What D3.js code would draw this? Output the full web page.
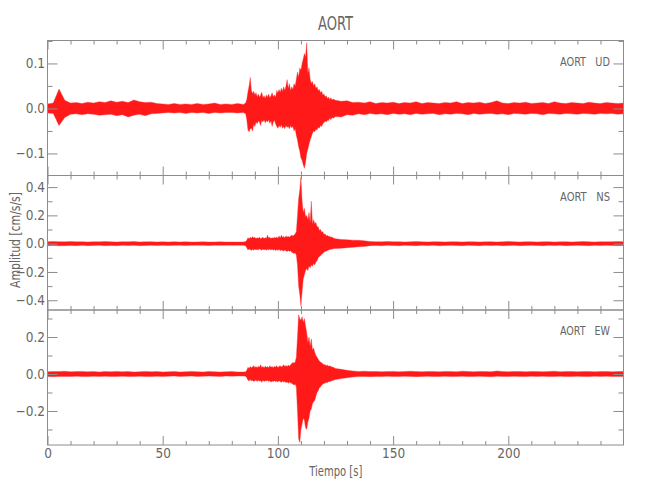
<!DOCTYPE html>
<html><head><meta charset="utf-8">
<script src="https://cdn.jsdelivr.net/npm/d3@7"></script>
<style>
body{margin:0;background:#fff}
svg text{font-family:"Liberation Sans Narrow","DejaVu Sans Condensed","Liberation Sans",Arial,sans-serif}
</style>
</head><body>
<svg id="chart" width="650" height="500"></svg>
<script>
// ---------------- data ----------------
const chartTitle = "AORT";
const stationName = "AORT";
const components = ["UD", "NS", "EW"];
const xLabel = "Tiempo [s]";
const yLabel = "Amplitud [cm/s/s]";
const xTickValues = [0, 50, 100, 150, 200];
const udTickValues = [-0.1, 0.0, 0.1];
const nsTickValues = [-0.4, -0.2, 0.0, 0.2, 0.4];
const ewTickValues = [-0.2, 0.0, 0.2];
const udRange = [-0.149, 0.151];
const nsRange = [-0.469, 0.482];
const ewRange = [-0.384, 0.346];

// sampling times (s) of the envelopes
const sampleTime = [
  0,2.5,5,7.5,10,12.5,15,17.5,20,22.5,25,27.5,30,32.5,35,37.5,40,42.5,45,47.5,
  50,52.5,55,57.5,60,62.5,65,67.5,70,72.5,75,77.5,80,82.5,85,
  86,86.5,87,87.5,88,88.5,89,89.5,90,90.5,91,91.5,92,92.5,93,93.5,94,94.5,95,95.5,
  96,96.5,97,97.5,98,98.5,99,99.5,100,100.5,101,101.5,102,102.5,103,103.5,104,104.5,105,105.5,
  106,106.5,107,107.5,108,108.5,109,109.5,110,110.5,111,111.5,112,112.5,113,113.5,114,114.5,115,115.5,
  116,116.5,117,117.5,118,118.5,119,119.5,120,120.5,121,121.5,122,122.5,123,123.5,124,
  125,127.5,130,132.5,135,137.5,140,142.5,145,147.5,150,152.5,155,157.5,160,162.5,165,167.5,170,172.5,
  175,177.5,180,182.5,185,187.5,190,192.5,195,197.5,200,202.5,205,207.5,210,212.5,215,217.5,220,222.5,
  225,227.5,230,232.5,235,237.5,240,242.5,245,247.5,250];

// UD (cm/s/s): upper and lower envelope
const udUpper = [
  0.010,0.012,0.043,0.018,0.012,0.013,0.011,0.014,0.012,0.015,0.013,0.017,0.014,0.016,0.013,0.019,0.015,0.013,0.014,0.011,
  0.010,0.009,0.011,0.009,0.010,0.009,0.011,0.009,0.010,0.012,0.009,0.010,0.009,0.011,0.009,
  0.012,0.02,0.037,0.05,0.069,0.04,0.033,0.038,0.03,0.035,0.026,0.032,0.025,0.03,0.036,0.024,0.028,0.022,0.03,0.025,
  0.032,0.024,0.028,0.035,0.026,0.03,0.025,0.04,0.035,0.042,0.036,0.045,0.038,0.048,0.04,0.05,0.064,0.045,0.055,0.04,
  0.048,0.042,0.055,0.05,0.065,0.081,0.07,0.09,0.085,0.1,0.11,0.122,0.115,0.146,0.078,0.09,0.065,0.056,0.06,0.05,
  0.055,0.045,0.048,0.04,0.042,0.035,0.038,0.03,0.032,0.026,0.028,0.022,0.025,0.02,0.024,0.019,0.021,
  0.018,0.016,0.017,0.013,0.014,0.012,0.015,0.011,0.013,0.012,0.014,0.011,0.013,0.012,0.015,0.011,0.013,0.012,0.011,0.013,
  0.012,0.015,0.011,0.013,0.012,0.014,0.011,0.013,0.017,0.012,0.011,0.013,0.012,0.014,0.011,0.012,0.013,0.011,0.015,0.012,
  0.011,0.013,0.012,0.011,0.014,0.012,0.011,0.013,0.012,0.011,0.012];
const udLower = [
  -0.010,-0.011,-0.038,-0.02,-0.013,-0.012,-0.014,-0.012,-0.013,-0.015,-0.014,-0.013,-0.016,-0.014,-0.019,-0.015,-0.013,-0.016,-0.012,-0.011,
  -0.010,-0.009,-0.010,-0.009,-0.011,-0.009,-0.010,-0.009,-0.011,-0.009,-0.010,-0.009,-0.009,-0.010,-0.009,
  -0.012,-0.025,-0.048,-0.052,-0.045,-0.044,-0.05,-0.035,-0.04,-0.03,-0.034,-0.028,-0.03,-0.038,-0.026,-0.03,-0.025,-0.032,-0.027,-0.03,
  -0.025,-0.033,-0.028,-0.04,-0.03,-0.026,-0.034,-0.04,-0.044,-0.038,-0.042,-0.036,-0.044,-0.04,-0.045,-0.038,-0.042,-0.04,-0.045,-0.038,
  -0.043,-0.04,-0.05,-0.045,-0.06,-0.07,-0.085,-0.095,-0.11,-0.115,-0.125,-0.133,-0.12,-0.1,-0.09,-0.08,-0.07,-0.063,-0.055,-0.05,
  -0.052,-0.046,-0.048,-0.042,-0.044,-0.038,-0.04,-0.034,-0.032,-0.028,-0.03,-0.026,-0.027,-0.022,-0.025,-0.02,-0.022,
  -0.018,-0.019,-0.014,-0.015,-0.012,-0.014,-0.011,-0.013,-0.012,-0.014,-0.011,-0.013,-0.012,-0.014,-0.011,-0.013,-0.012,-0.011,-0.014,-0.012,
  -0.013,-0.011,-0.012,-0.014,-0.011,-0.013,-0.012,-0.011,-0.013,-0.012,-0.014,-0.011,-0.012,-0.013,-0.011,-0.012,-0.014,-0.011,-0.012,-0.013,
  -0.011,-0.012,-0.013,-0.011,-0.012,-0.013,-0.011,-0.012,-0.011,-0.013,-0.012];

// NS (cm/s/s)
const nsUpper = [
  0.014,0.016,0.014,0.013,0.015,0.013,0.014,0.012,0.014,0.013,0.015,0.013,0.012,0.014,0.013,0.015,0.012,0.013,0.014,0.012,
  0.013,0.012,0.014,0.012,0.013,0.011,0.012,0.013,0.011,0.012,0.013,0.011,0.012,0.011,0.012,
  0.015,0.025,0.042,0.035,0.045,0.038,0.05,0.04,0.045,0.036,0.042,0.038,0.046,0.035,0.04,0.045,0.036,0.042,0.038,0.06,
  0.04,0.045,0.036,0.042,0.038,0.045,0.04,0.048,0.038,0.055,0.04,0.06,0.045,0.05,0.042,0.055,0.048,0.05,0.045,0.055,
  0.06,0.055,0.06,0.07,0.085,0.2,0.32,0.38,0.47,0.3,0.22,0.25,0.19,0.2,0.17,0.22,0.15,0.3,0.14,0.17,
  0.14,0.15,0.12,0.12,0.095,0.1,0.08,0.085,0.065,0.07,0.055,0.06,0.05,0.052,0.045,0.048,0.04,
  0.035,0.03,0.028,0.025,0.024,0.02,0.015,0.014,0.013,0.015,0.013,0.014,0.012,0.013,0.015,0.013,0.012,0.014,0.013,0.012,
  0.014,0.013,0.012,0.014,0.013,0.012,0.013,0.014,0.012,0.013,0.016,0.013,0.012,0.014,0.013,0.012,0.013,0.014,0.012,0.013,
  0.014,0.012,0.013,0.015,0.013,0.012,0.014,0.013,0.014,0.015,0.014];
const nsLower = [
  -0.014,-0.013,-0.015,-0.014,-0.013,-0.014,-0.012,-0.014,-0.013,-0.012,-0.014,-0.013,-0.014,-0.012,-0.013,-0.012,-0.014,-0.013,-0.012,-0.013,
  -0.012,-0.013,-0.012,-0.011,-0.013,-0.012,-0.011,-0.012,-0.013,-0.011,-0.012,-0.011,-0.012,-0.011,-0.012,
  -0.015,-0.028,-0.045,-0.038,-0.042,-0.048,-0.04,-0.046,-0.038,-0.044,-0.04,-0.045,-0.036,-0.042,-0.046,-0.038,-0.044,-0.04,-0.046,-0.04,
  -0.045,-0.038,-0.044,-0.04,-0.046,-0.04,-0.05,-0.042,-0.048,-0.04,-0.05,-0.044,-0.048,-0.052,-0.045,-0.05,-0.055,-0.048,-0.055,-0.05,
  -0.06,-0.065,-0.07,-0.065,-0.08,-0.15,-0.3,-0.36,-0.44,-0.34,-0.25,-0.22,-0.19,-0.175,-0.19,-0.16,-0.17,-0.15,-0.16,-0.14,
  -0.15,-0.13,-0.12,-0.1,-0.09,-0.085,-0.075,-0.07,-0.06,-0.055,-0.052,-0.048,-0.045,-0.042,-0.04,-0.038,-0.036,
  -0.035,-0.032,-0.028,-0.026,-0.022,-0.02,-0.014,-0.013,-0.014,-0.012,-0.013,-0.014,-0.012,-0.013,-0.014,-0.012,-0.013,-0.012,-0.014,-0.013,
  -0.012,-0.013,-0.014,-0.012,-0.013,-0.014,-0.012,-0.013,-0.012,-0.014,-0.013,-0.012,-0.014,-0.013,-0.012,-0.013,-0.014,-0.012,-0.013,-0.012,
  -0.014,-0.013,-0.012,-0.013,-0.014,-0.012,-0.013,-0.012,-0.013,-0.014,-0.013];

// EW (cm/s/s)
const ewUpper = [
  0.012,0.014,0.013,0.015,0.012,0.013,0.014,0.012,0.013,0.011,0.013,0.012,0.014,0.012,0.013,0.011,0.012,0.014,0.012,0.013,
  0.011,0.012,0.013,0.011,0.012,0.014,0.012,0.011,0.013,0.012,0.011,0.012,0.013,0.011,0.011,
  0.012,0.02,0.036,0.03,0.04,0.034,0.038,0.045,0.035,0.04,0.034,0.042,0.036,0.05,0.035,0.04,0.034,0.042,0.036,0.04,
  0.034,0.045,0.036,0.04,0.034,0.042,0.038,0.044,0.035,0.04,0.045,0.038,0.042,0.05,0.04,0.046,0.04,0.048,0.042,0.05,
  0.055,0.063,0.058,0.065,0.09,0.2,0.32,0.3,0.29,0.31,0.28,0.3,0.26,0.225,0.17,0.2,0.15,0.19,0.13,0.14,
  0.117,0.1,0.09,0.08,0.07,0.065,0.06,0.055,0.05,0.05,0.045,0.048,0.042,0.044,0.04,0.038,0.036,
  0.03,0.025,0.02,0.016,0.014,0.015,0.013,0.014,0.012,0.013,0.014,0.012,0.013,0.015,0.013,0.012,0.014,0.013,0.012,0.014,
  0.013,0.012,0.015,0.013,0.012,0.014,0.013,0.012,0.016,0.013,0.012,0.014,0.013,0.012,0.014,0.013,0.012,0.013,0.015,0.012,
  0.013,0.014,0.012,0.013,0.014,0.012,0.013,0.014,0.012,0.013,0.014];
const ewLower = [
  -0.013,-0.015,-0.014,-0.013,-0.014,-0.012,-0.013,-0.014,-0.012,-0.013,-0.012,-0.014,-0.013,-0.012,-0.014,-0.013,-0.012,-0.013,-0.014,-0.012,
  -0.013,-0.012,-0.011,-0.013,-0.012,-0.011,-0.013,-0.012,-0.011,-0.012,-0.013,-0.011,-0.012,-0.011,-0.011,
  -0.012,-0.02,-0.034,-0.036,-0.03,-0.038,-0.034,-0.04,-0.036,-0.032,-0.04,-0.034,-0.038,-0.036,-0.045,-0.034,-0.04,-0.036,-0.038,-0.034,
  -0.04,-0.036,-0.045,-0.038,-0.04,-0.036,-0.042,-0.038,-0.044,-0.036,-0.04,-0.046,-0.038,-0.044,-0.04,-0.048,-0.042,-0.05,-0.044,-0.048,
  -0.05,-0.055,-0.06,-0.055,-0.07,-0.2,-0.35,-0.37,-0.3,-0.27,-0.24,-0.25,-0.29,-0.3,-0.26,-0.24,-0.2,-0.19,-0.16,-0.15,
  -0.144,-0.12,-0.1,-0.09,-0.075,-0.07,-0.06,-0.055,-0.05,-0.05,-0.045,-0.048,-0.04,-0.042,-0.038,-0.036,-0.034,
  -0.03,-0.025,-0.021,-0.016,-0.014,-0.013,-0.015,-0.013,-0.014,-0.012,-0.013,-0.014,-0.012,-0.013,-0.015,-0.013,-0.012,-0.014,-0.013,-0.012,
  -0.014,-0.013,-0.012,-0.014,-0.013,-0.012,-0.013,-0.015,-0.012,-0.013,-0.014,-0.012,-0.013,-0.014,-0.012,-0.013,-0.012,-0.014,-0.013,-0.012,
  -0.014,-0.013,-0.012,-0.013,-0.014,-0.012,-0.013,-0.012,-0.014,-0.013,-0.013];

// ---------------- drawing ----------------
const svg = d3.select("#chart");
const frameColor = "#8c8c8c", textColor = "#666";
const left = 47.5, right = 623.5;
const panelTops = [40.5, 175.5, 310];
const panelBottoms = [175.5, 310, 445];

const x = d3.scaleLinear().domain([0, 250]).range([left, right]);

const panels = [
  {comp: components[0], up: udUpper, lo: udLower, dom: udRange, ticks: udTickValues, minorStep: 0.05},
  {comp: components[1], up: nsUpper, lo: nsLower, dom: nsRange, ticks: nsTickValues, minorStep: 0.1},
  {comp: components[2], up: ewUpper, lo: ewLower, dom: ewRange, ticks: ewTickValues, minorStep: 0.1}
];

const xMinor = d3.range(0, 251, 10).filter(v => v % 50 !== 0);

panels.forEach((p, i) => {
  const top = panelTops[i], bot = panelBottoms[i];
  const y = d3.scaleLinear().domain(p.dom).range([bot, top]);
  const n = Math.min(sampleTime.length, p.up.length, p.lo.length);
  if (sampleTime.length !== p.up.length || sampleTime.length !== p.lo.length)
    console.warn("length mismatch", p.comp, sampleTime.length, p.up.length, p.lo.length);
  const rows = d3.range(n).map(k => ({t: sampleTime[k], hi: p.up[k], lo: p.lo[k]}));

  // trace envelope
  const area = d3.area().x(d => x(d.t)).y0(d => y(d.lo)).y1(d => y(d.hi));
  svg.append("path").datum(rows).attr("d", area)
    .attr("fill", "#ff0000").attr("fill-opacity", 0.9)
    .attr("stroke", "#ff3030").attr("stroke-width", 0.7).attr("stroke-opacity", 0.55);

  const yMinor = d3.range(Math.ceil(p.dom[0] / p.minorStep) * p.minorStep, p.dom[1], p.minorStep)
    .map(v => +v.toFixed(3)).filter(v => !p.ticks.some(t => Math.abs(t - v) < 1e-6));

  const g = svg.append("g").attr("color", frameColor);
  g.append("g").attr("transform", `translate(${left},0)`)
    .call(d3.axisLeft(y).tickValues(p.ticks).tickSizeInner(-10).tickSizeOuter(0).tickPadding(2.5).tickFormat(d3.format(".1f")))
    .call(a => a.select(".domain").remove())
    .call(a => a.selectAll("text").attr("fill", textColor).style("font-size", "13.5px"));
  g.append("g").attr("transform", `translate(${left},0)`)
    .call(d3.axisLeft(y).tickValues(yMinor).tickSizeInner(-5).tickSizeOuter(0).tickFormat(""))
    .call(a => a.select(".domain").remove());
  g.append("g").attr("transform", `translate(${right},0)`)
    .call(d3.axisRight(y).tickValues(p.ticks).tickSizeInner(-10).tickSizeOuter(0).tickFormat(""))
    .call(a => a.select(".domain").remove());
  g.append("g").attr("transform", `translate(${right},0)`)
    .call(d3.axisRight(y).tickValues(yMinor).tickSizeInner(-5).tickSizeOuter(0).tickFormat(""))
    .call(a => a.select(".domain").remove());
  g.append("g").attr("transform", `translate(0,${top})`)
    .call(d3.axisTop(x).tickValues(xTickValues).tickSizeInner(-9).tickSizeOuter(0).tickFormat(""))
    .call(a => a.select(".domain").remove());
  g.append("g").attr("transform", `translate(0,${top})`)
    .call(d3.axisTop(x).tickValues(xMinor).tickSizeInner(-4).tickSizeOuter(0).tickFormat(""))
    .call(a => a.select(".domain").remove());
  const xb = g.append("g").attr("transform", `translate(0,${bot})`)
    .call(d3.axisBottom(x).tickValues(xTickValues).tickSizeInner(-9).tickSizeOuter(0)
      .tickPadding(3.5).tickFormat(i === 2 ? d3.format("d") : ""))
    .call(a => a.select(".domain").remove());
  xb.selectAll("text").attr("fill", textColor).style("font-size", "13.5px");
  g.append("g").attr("transform", `translate(0,${bot})`)
    .call(d3.axisBottom(x).tickValues(xMinor).tickSizeInner(-4).tickSizeOuter(0).tickFormat(""))
    .call(a => a.select(".domain").remove());

  svg.append("rect").attr("x", left).attr("y", top).attr("width", right - left).attr("height", bot - top)
    .attr("fill", "none").attr("stroke", frameColor).attr("stroke-width", 1);

  svg.append("text").attr("x", 560).attr("y", top + 25.3)
    .attr("textLength", 50).attr("lengthAdjust", "spacingAndGlyphs")
    .style("white-space", "pre").style("font-size", "12.5px").attr("fill", textColor)
    .text(stationName + "   " + p.comp);
});

svg.append("text").attr("x", 335.5).attr("y", 30).attr("text-anchor", "middle")
  .attr("textLength", 35).attr("lengthAdjust", "spacingAndGlyphs")
  .style("font-size", "19px").attr("fill", textColor).text(chartTitle);
svg.append("text").attr("x", 335.8).attr("y", 476).attr("text-anchor", "middle")
  .attr("textLength", 53).attr("lengthAdjust", "spacingAndGlyphs").style("white-space", "pre")
  .style("font-size", "14px").attr("fill", textColor).text(xLabel);
svg.append("text").attr("transform", "translate(19.5,240) rotate(-90)").attr("text-anchor", "middle")
  .attr("textLength", 96).attr("lengthAdjust", "spacingAndGlyphs").style("white-space", "pre")
  .style("font-size", "14px").attr("fill", textColor).text(yLabel);
</script>
</body></html>
